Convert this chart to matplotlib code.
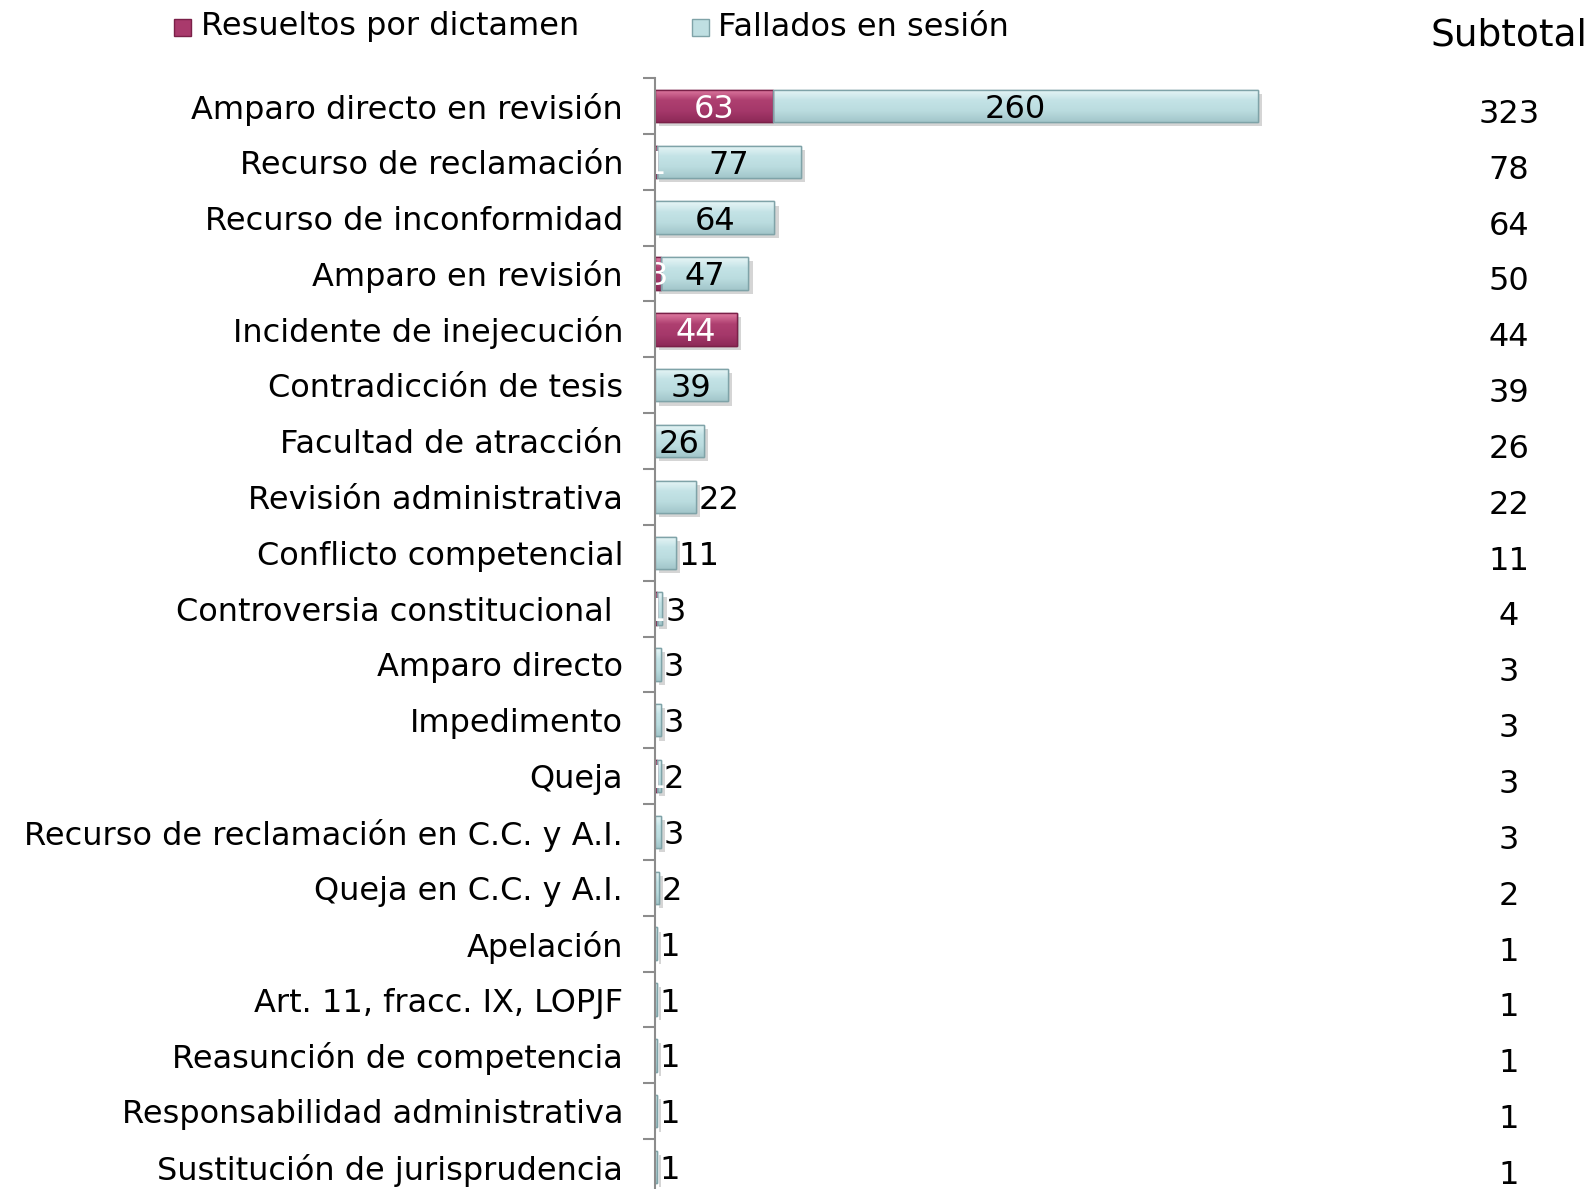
import matplotlib
matplotlib.use("Agg")
import matplotlib.pyplot as plt
import matplotlib.patheffects as pe
from matplotlib.colors import LinearSegmentedColormap
import numpy as np

categories = [
    "Amparo directo en revisión",
    "Recurso de reclamación",
    "Recurso de inconformidad",
    "Amparo en revisión",
    "Incidente de inejecución",
    "Contradicción de tesis",
    "Facultad de atracción",
    "Revisión administrativa",
    "Conflicto competencial",
    "Controversia constitucional ",
    "Amparo directo",
    "Impedimento",
    "Queja",
    "Recurso de reclamación en C.C. y A.I.",
    "Queja en C.C. y A.I.",
    "Apelación",
    "Art. 11, fracc. IX, LOPJF",
    "Reasunción de competencia",
    "Responsabilidad administrativa",
    "Sustitución de jurisprudencia",
]
dictamen = [63, 1, 0, 3, 44, 0, 0, 0, 0, 1, 0, 0, 1, 0, 0, 0, 0, 0, 0, 0]
sesion = [260, 77, 64, 47, 0, 39, 26, 22, 11, 3, 3, 3, 2, 3, 2, 1, 1, 1, 1, 1]
subtotal = [323, 78, 64, 50, 44, 39, 26, 22, 11, 4, 3, 3, 3, 3, 2, 1, 1, 1, 1, 1]
legend_labels = ["Resueltos por dictamen", "Fallados en sesión"]
subtotal_title = "Subtotal"

C_DIC = "#A93A6C"
C_DIC_EDGE = "#7A2048"
C_SES = "#BFDFE2"
C_SES_EDGE = "#7FA3A8"
cmap_dic = LinearSegmentedColormap.from_list("d", ["#E07CA2", "#AE3F70", "#A5386A", "#8E2A58"])
cmap_ses = LinearSegmentedColormap.from_list("s", ["#E8F6F7", "#C4E3E6", "#BADCDF", "#A3C6CA"])

W, H = 1591, 1189
fig = plt.figure(figsize=(W / 100, H / 100), dpi=100)
plt.rcParams["font.family"] = ["DejaVu Sans"]

ax_left = 655 / W
ax_right = 1320 / W
ax_top = 1 - 78 / H
ax_bottom = 1 - 1195 / H
ax = fig.add_axes([ax_left, ax_bottom, ax_right - ax_left, ax_top - ax_bottom])

n = len(categories)
y = np.arange(n)
xmax = 323 * (1320 - 655) / (1258 - 655)
bh = 0.58
shadow = [pe.SimplePatchShadow(offset=(3, -3), shadow_rgbFace="#888888", alpha=0.35), pe.Normal()]

bars_d = ax.barh(y, dictamen, height=bh, color=C_DIC, edgecolor=C_DIC_EDGE, linewidth=1.0, zorder=3)
bars_s = ax.barh(y, sesion, left=dictamen, height=bh, color=C_SES, edgecolor=C_SES_EDGE, linewidth=1.0, zorder=3)
grad = np.linspace(0, 1, 64).reshape(-1, 1)
for bars, cm in [(bars_d, cmap_dic), (bars_s, cmap_ses)]:
    for b in bars:
        if b.get_width() > 0:
            b.set_path_effects(shadow)
            x0, y0 = b.get_x(), b.get_y()
            w, h = b.get_width(), b.get_height()
            im = ax.imshow(grad, cmap=cm, aspect="auto", extent=(x0, x0 + w, y0, y0 + h),
                           origin="lower", zorder=3.5, interpolation="bilinear")
            im.set_clip_path(b)
            edge = plt.Rectangle((x0, y0), w, h, fill=False, edgecolor=b.get_edgecolor(),
                                 linewidth=1.0, zorder=3.6)
            ax.add_patch(edge)

ax.set_xlim(0, xmax)
ax.set_ylim(n - 0.5, -0.5)

fs = 23
px_per_unit = (1258 - 655) / 323
for i in range(n):
    d, s = dictamen[i], sesion[i]
    if d > 0:
        ax.text(d / 2, i, str(d), ha="center", va="center_baseline", color="white", fontsize=fs, zorder=5)
    if s > 0:
        txt = str(s)
        width_px = s * px_per_unit
        need_px = len(txt) * 18 + 6
        if width_px >= need_px:
            ax.text(d + s / 2, i, txt, ha="center", va="center_baseline", color="black", fontsize=fs, zorder=5)
        else:
            ax.annotate(txt, xy=(d + s, i), xytext=(2, 0), textcoords="offset points",
                        ha="left", va="center_baseline", color="black", fontsize=fs, zorder=5)

for sp in ["top", "right", "bottom"]:
    ax.spines[sp].set_visible(False)
ax.spines["left"].set_color("#8C8C8C")
ax.spines["left"].set_linewidth(1.5)
ax.spines["left"].set_zorder(6)
ax.set_xticks([])
ax.set_yticks(y)
ax.set_yticklabels(categories, fontsize=fs)
ax.tick_params(axis="y", which="major", length=0, pad=23)
ax.set_yticks(np.arange(n + 1) - 0.5, minor=True)
ax.tick_params(axis="y", which="minor", length=9, width=1.5, color="#8C8C8C", direction="out")

sub_x = 1509 / W
for i in range(n):
    yc = ax.transData.transform((0, i + 0.15))
    yf = fig.transFigure.inverted().transform(yc)[1]
    fig.text(sub_x, yf, str(subtotal[i]), ha="center", va="center", fontsize=fs)
fig.text(sub_x, 1 - 35 / H, subtotal_title, ha="center", va="center", fontsize=27)

leg_y = 1 - 27 / H
for (xm, xt, lab, col, ec) in [(183, 201, legend_labels[0], C_DIC, C_DIC_EDGE),
                                (701, 718, legend_labels[1], C_SES, C_SES_EDGE)]:
    fig.patches.append(plt.Rectangle(((xm - 9) / W, leg_y - 9 / H), 17 / W, 17 / H,
                                     transform=fig.transFigure, facecolor=col, edgecolor=ec, linewidth=1))
    fig.text(xt / W, leg_y, lab, ha="left", va="center", fontsize=fs)

fig.savefig("out.png", dpi=100)
